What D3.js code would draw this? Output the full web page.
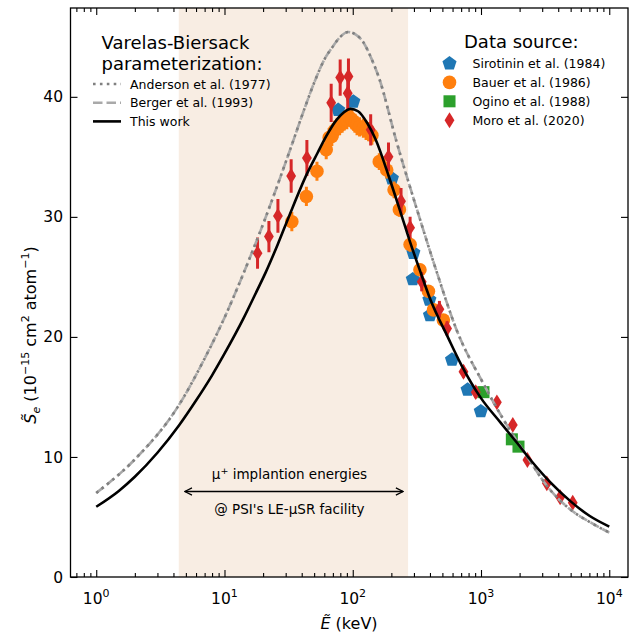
<!DOCTYPE html>
<html>
<head>
<meta charset="utf-8">
<script src="https://cdn.jsdelivr.net/npm/d3@7"></script>
<style>
  body { margin: 0; background: #fff; }
  svg { display: block; font-family: "DejaVu Sans", sans-serif; }
</style>
</head>
<body>
<svg id="chart"></svg>
<script>
// ---- data ----
const xTicks = [1, 10, 100, 1000, 10000];
const xTickExp = ["0", "1", "2", "3", "4"];
const yTicks = [0, 10, 20, 30, 40];
const implantRange = [4.4, 270];

// Varelas-Biersack curves
const thisWorkE = [1, 1.5, 2, 3, 4.4, 6, 8, 10, 14, 18, 21, 26, 32, 44, 53, 62, 75, 85, 96, 110, 130, 150, 192, 234, 280, 340, 400, 556, 700, 1000, 1410, 1900, 2500, 3460, 5000, 7000, 10000];
const thisWorkS = [5.85, 7.17, 8.35, 10.35, 12.6, 14.7, 16.8, 18.6, 21.5, 23.9, 25.4, 27.7, 30.1, 33.6, 35.3, 36.7, 38.1, 38.7, 39.0, 38.8, 37.8, 36.5, 33.3, 30.5, 27.9, 25.3, 23.2, 19.9, 17.7, 14.9, 12.9, 11.2, 9.6, 7.9, 6.3, 5.1, 4.2];
const andersonE = [1, 2, 4.4, 7, 10, 13.7, 20, 32.5, 42, 51, 60, 70, 80, 92, 105, 120, 141, 160, 219, 330, 452, 650, 1045, 1500, 2300, 3260, 5000, 7000, 10000];
const andersonS = [7.0, 9.8, 14.3, 18.2, 21.6, 25.0, 29.4, 35.6, 39.0, 41.4, 43.1, 44.2, 45.0, 45.4, 45.2, 44.6, 43.1, 41.6, 36.3, 30.0, 25.4, 20.5, 16.1, 13.1, 10.0, 7.6, 5.6, 4.6, 3.7];
const bergerE = andersonE;
const bergerS = andersonS;

// measurements
const sirotininE = [77, 101, 202, 297, 294, 396, 400, 594, 786, 996];
const sirotininS = [38.9, 39.6, 33.2, 27.0, 24.8, 23.1, 21.8, 18.1, 15.6, 13.8];

const bauerE = [33.5, 43.5, 52.6, 62.1, 65.5, 68.7, 72, 75.4, 79, 82.6, 86, 89.9, 94, 98.5, 104, 108, 113, 121, 127, 133, 141, 161, 184, 210, 231, 280, 334, 389, 426, 509];
const bauerS = [29.6, 31.7, 33.8, 35.6, 36.6, 36.7, 37.2, 37.4, 37.6, 37.8, 38.0, 38.1, 38.3, 38.1, 37.8, 37.6, 37.5, 37.4, 37.2, 37.1, 36.8, 34.6, 33.9, 32.25, 30.6, 27.7, 25.6, 23.8, 22.25, 21.4];
const bauerErr = [0.8, 0.8, 0.8, 0.8, 0.8, 0.8, 0.8, 0.8, 0.8, 0.8, 0.8, 0.8, 0.8, 0.8, 0.8, 0.8, 0.8, 0.8, 0.8, 0.8, 0.8, 0.7, 0.7, 0.7, 0.6, 0.6, 0.5, 0.5, 0.5, 0.4];

const oginoE = [1045, 1740, 1960];
const oginoS = [15.4, 11.47, 10.86];

const moroE = [18.1, 22.2, 26.1, 33.1, 43.9, 67.9, 79.8, 92.6, 91.4, 138, 190, 238, 280, 345, 474, 544, 730, 910, 1330, 1770, 2300, 3260, 4140, 5190];
const moroS = [26.98, 28.36, 30.08, 33.4, 34.9, 39.5, 41.6, 41.7, 40.3, 37.25, 35.0, 31.3, 29.1, 24.6, 22.3, 20.7, 17.1, 15.4, 14.55, 12.67, 9.75, 7.8, 6.64, 6.19];
const moroErr = [1.3, 1.3, 1.4, 1.4, 1.5, 1.6, 1.5, 1.5, 1.4, 1.3, 1.2, 1.1, 0.9, 0.8, 0.7, 0.6, 0.5, 0.5, 0.4, 0.4, 0.3, 0.3, 0.3, 0.3];

// ---- layout ----
const width = 632, height = 634;
const margin = { left: 70.5, right: 4, top: 8, bottom: 57 };

const svg = d3.select('#chart')
    .attr('width', width)
    .attr('height', height);

svg.append('rect').attr('width', width).attr('height', height).attr('fill', '#fff');

const x = d3.scaleLog()
    .domain([0.63, 14000])
    .range([margin.left, width - margin.right]);

const y = d3.scaleLinear()
    .domain([0, 47.4])
    .range([height - margin.bottom, margin.top]);

const colors = { blue: '#1f77b4', orange: '#ff7f0e', green: '#2ca02c', red: '#d62728' };

svg.append('clipPath').attr('id', 'clip')
    .append('rect')
    .attr('x', x.range()[0]).attr('y', y.range()[1])
    .attr('width', x.range()[1] - x.range()[0])
    .attr('height', y.range()[0] - y.range()[1]);

const plot = svg.append('g').attr('clip-path', 'url(#clip)');

// shaded implantation band
plot.append('rect')
    .attr('x', x(implantRange[0]))
    .attr('width', x(implantRange[1]) - x(implantRange[0]))
    .attr('y', y.range()[1])
    .attr('height', y.range()[0] - y.range()[1])
    .attr('fill', '#f8ede3');

// markers
const pentagon = d3.symbol().type({
    draw(ctx, size) {
        const r = Math.sqrt(size);
        for (let i = 0; i < 5; i++) {
            const a = -Math.PI / 2 + i * 2 * Math.PI / 5;
            const px = r * Math.cos(a), py = r * Math.sin(a);
            if (i === 0) ctx.moveTo(px, py); else ctx.lineTo(px, py);
        }
        ctx.closePath();
    }
}).size(55);

const thinDiamond = d3.symbol().type({
    draw(ctx, size) {
        const h = Math.sqrt(size);
        const w = h * 0.62;
        ctx.moveTo(0, -h);
        ctx.lineTo(w, 0);
        ctx.lineTo(0, h);
        ctx.lineTo(-w, 0);
        ctx.closePath();
    }
}).size(63);

const square = d3.symbol().type(d3.symbolSquare).size(145);

function errorBars(E, S, err, color) {
    plot.append('g')
        .selectAll('line')
        .data(E.map((e, i) => [e, S[i], err[i]]))
        .enter()
        .append('line')
        .attr('x1', d => x(d[0])).attr('x2', d => x(d[0]))
        .attr('y1', d => y(d[1] - d[2])).attr('y2', d => y(d[1] + d[2]))
        .attr('stroke', color)
        .attr('stroke-width', 3);
}

// Sirotinin
plot.append('g')
    .selectAll('path')
    .data(sirotininE.map((e, i) => [e, sirotininS[i]]))
    .enter()
    .append('path')
    .attr('d', pentagon)
    .attr('transform', d => `translate(${x(d[0])},${y(d[1])})`)
    .attr('fill', colors.blue);

// Bauer
errorBars(bauerE, bauerS, bauerErr, colors.orange);
plot.append('g')
    .selectAll('circle')
    .data(bauerE.map((e, i) => [e, bauerS[i]]))
    .enter()
    .append('circle')
    .attr('cx', d => x(d[0]))
    .attr('cy', d => y(d[1]))
    .attr('r', 6.8)
    .attr('fill', colors.orange);

// Ogino
plot.append('g')
    .selectAll('path')
    .data(oginoE.map((e, i) => [e, oginoS[i]]))
    .enter()
    .append('path')
    .attr('d', square)
    .attr('transform', d => `translate(${x(d[0])},${y(d[1])})`)
    .attr('fill', colors.green);

// Moro
errorBars(moroE, moroS, moroErr, colors.red);
plot.append('g')
    .selectAll('path')
    .data(moroE.map((e, i) => [e, moroS[i]]))
    .enter()
    .append('path')
    .attr('d', thinDiamond)
    .attr('transform', d => `translate(${x(d[0])},${y(d[1])})`)
    .attr('fill', colors.red);

// curves
const line = d3.line()
    .x(d => x(d[0]))
    .y(d => y(d[1]))
    .curve(d3.curveMonotoneX);

plot.append('path')
    .datum(bergerE.map((e, i) => [e, bergerS[i]]))
    .attr('d', line)
    .attr('fill', 'none')
    .attr('stroke', '#a9a9a9')
    .attr('stroke-width', 2.6)
    .attr('stroke-dasharray', '9.5,4');

plot.append('path')
    .datum(andersonE.map((e, i) => [e, andersonS[i]]))
    .attr('d', line)
    .attr('fill', 'none')
    .attr('stroke', '#808080')
    .attr('stroke-width', 2.6)
    .attr('stroke-dasharray', '2.6,4.3');

plot.append('path')
    .datum(thisWorkE.map((e, i) => [e, thisWorkS[i]]))
    .attr('d', line)
    .attr('fill', 'none')
    .attr('stroke', '#000')
    .attr('stroke-width', 2.6);

// ---- axes ----
const x0 = x.range()[0], x1 = x.range()[1];
const y0 = y.range()[0], y1 = y.range()[1];

const minorX = [];
for (let p = -1; p <= 4; p++) {
    for (let m = 2; m <= 9; m++) {
        const v = m * Math.pow(10, p);
        if (v > x.domain()[0] && v < x.domain()[1]) minorX.push(v);
    }
}

const axisG = svg.append('g');

axisG.append('g')
    .attr('transform', `translate(0,${y0})`)
    .call(d3.axisBottom(x).tickValues(xTicks).tickSize(-7).tickFormat(''));
axisG.append('g')
    .attr('transform', `translate(0,${y0})`)
    .call(d3.axisBottom(x).tickValues(minorX).tickSize(-4).tickFormat(''));
axisG.append('g')
    .attr('transform', `translate(0,${y1})`)
    .call(d3.axisTop(x).tickValues(xTicks).tickSize(-7).tickFormat(''));
axisG.append('g')
    .attr('transform', `translate(0,${y1})`)
    .call(d3.axisTop(x).tickValues(minorX).tickSize(-4).tickFormat(''));
axisG.append('g')
    .attr('transform', `translate(${x0},0)`)
    .call(d3.axisLeft(y).tickValues(yTicks).tickSize(-7).tickFormat(''));
axisG.append('g')
    .attr('transform', `translate(${x1},0)`)
    .call(d3.axisRight(y).tickValues(yTicks).tickSize(-7).tickFormat(''));

axisG.selectAll('.domain').remove();
axisG.selectAll('.tick line').attr('stroke', '#000').attr('stroke-width', 1.1);

svg.append('rect')
    .attr('x', x0).attr('y', y1)
    .attr('width', x1 - x0).attr('height', y0 - y1)
    .attr('fill', 'none')
    .attr('stroke', '#000')
    .attr('stroke-width', 1.3);

// tick labels
const xl = svg.append('g').attr('font-size', 15.5).attr('fill', '#000');
xTicks.forEach((t, i) => {
    const txt = xl.append('text')
        .attr('x', x(t))
        .attr('y', 604)
        .attr('text-anchor', 'middle');
    txt.append('tspan').text('10');
    txt.append('tspan').attr('dy', -7).attr('font-size', 11).text(xTickExp[i]);
});

svg.append('g').attr('font-size', 15.5)
    .selectAll('text')
    .data(yTicks)
    .enter()
    .append('text')
    .attr('x', 63)
    .attr('y', d => y(d))
    .attr('dy', '0.36em')
    .attr('text-anchor', 'end')
    .text(d => d);

// axis titles
const xTitle = svg.append('text')
    .attr('x', 349)
    .attr('y', 629)
    .attr('text-anchor', 'middle')
    .attr('font-size', 16);
xTitle.append('tspan').attr('font-style', 'italic').text('E\u0303');
xTitle.append('tspan').text(' (keV)');

const yTitle = svg.append('text')
    .attr('transform', 'translate(36,335) rotate(-90)')
    .attr('text-anchor', 'middle')
    .attr('font-size', 16);
yTitle.append('tspan').attr('font-style', 'italic').text('S\u0303');
yTitle.append('tspan').attr('font-style', 'italic').attr('font-size', 11).attr('dy', 4).text('e');
yTitle.append('tspan').attr('dy', -4).text(' (10');
yTitle.append('tspan').attr('font-size', 11).attr('dy', -7).text('\u221215');
yTitle.append('tspan').attr('dy', 7).text(' cm');
yTitle.append('tspan').attr('font-size', 11).attr('dy', -7).text('2');
yTitle.append('tspan').attr('dy', 7).text(' atom');
yTitle.append('tspan').attr('font-size', 11).attr('dy', -7).text('\u22121');
yTitle.append('tspan').attr('dy', 7).text(')');

// ---- left legend ----
const leg1 = svg.append('g');
leg1.append('text').attr('x', 101.5).attr('y', 48.5).attr('font-size', 18).text('Varelas-Biersack');
leg1.append('text').attr('x', 101.5).attr('y', 70).attr('font-size', 18).text('parameterization:');

const curveLegend = [
    { label: 'Anderson et al. (1977)', color: '#808080', dash: '2.6,4.3' },
    { label: 'Berger et al. (1993)', color: '#a9a9a9', dash: '9.5,4' },
    { label: 'This work', color: '#000', dash: null }
];
curveLegend.forEach((d, i) => {
    const cy = 84 + i * 18.7;
    leg1.append('line')
        .attr('x1', 93).attr('x2', 121)
        .attr('y1', cy).attr('y2', cy)
        .attr('stroke', d.color)
        .attr('stroke-width', 2.6)
        .attr('stroke-dasharray', d.dash);
    leg1.append('text')
        .attr('x', 130).attr('y', cy + 4.5)
        .attr('font-size', 12.5)
        .text(d.label);
});

// ---- right legend ----
const leg2 = svg.append('g');
leg2.append('text').attr('x', 464).attr('y', 48).attr('font-size', 18).text('Data source:');

const dataLegend = [
    { label: 'Sirotinin et al. (1984)', color: colors.blue, shape: 'pentagon' },
    { label: 'Bauer et al. (1986)', color: colors.orange, shape: 'circle' },
    { label: 'Ogino et al. (1988)', color: colors.green, shape: 'square' },
    { label: 'Moro et al. (2020)', color: colors.red, shape: 'diamond' }
];
dataLegend.forEach((d, i) => {
    const cy = 63.5 + i * 18.9;
    if (d.shape === 'circle') {
        leg2.append('circle').attr('cx', 449.5).attr('cy', cy).attr('r', 6.8).attr('fill', d.color);
    } else {
        const sym = d.shape === 'pentagon' ? pentagon : d.shape === 'square' ? square : thinDiamond;
        leg2.append('path').attr('d', sym).attr('transform', `translate(449.5,${cy})`).attr('fill', d.color);
    }
    leg2.append('text')
        .attr('x', 472.5).attr('y', cy + 4.5)
        .attr('font-size', 12.5)
        .text(d.label);
});

// ---- implantation annotation ----
const ann = svg.append('g').attr('font-size', 13.5).attr('text-anchor', 'middle');
const annX = (x(implantRange[0]) + x(implantRange[1])) / 2 - 4;
const t1 = ann.append('text').attr('x', annX).attr('y', 478.5);
t1.append('tspan').text('\u03bc');
t1.append('tspan').attr('dy', -5).attr('font-size', 9.5).text('+');
t1.append('tspan').attr('dy', 5).text(' implantion energies');
ann.append('text').attr('x', annX).attr('y', 514).text("@ PSI's LE-\u03bcSR facility");

svg.append('defs').html(
    '<marker id="ah" viewBox="0 0 10 10" refX="9" refY="5" markerWidth="9" markerHeight="9" orient="auto-start-reverse" markerUnits="userSpaceOnUse">' +
    '<path d="M1,1 L9,5 L1,9" fill="none" stroke="#000" stroke-width="1.4"/></marker>');

svg.append('line')
    .attr('x1', x(implantRange[0]) + 6).attr('x2', x(implantRange[1]) - 5)
    .attr('y1', 491.5).attr('y2', 491.5)
    .attr('stroke', '#000')
    .attr('stroke-width', 1.5)
    .attr('marker-start', 'url(#ah)')
    .attr('marker-end', 'url(#ah)');
</script>
</body>
</html>
